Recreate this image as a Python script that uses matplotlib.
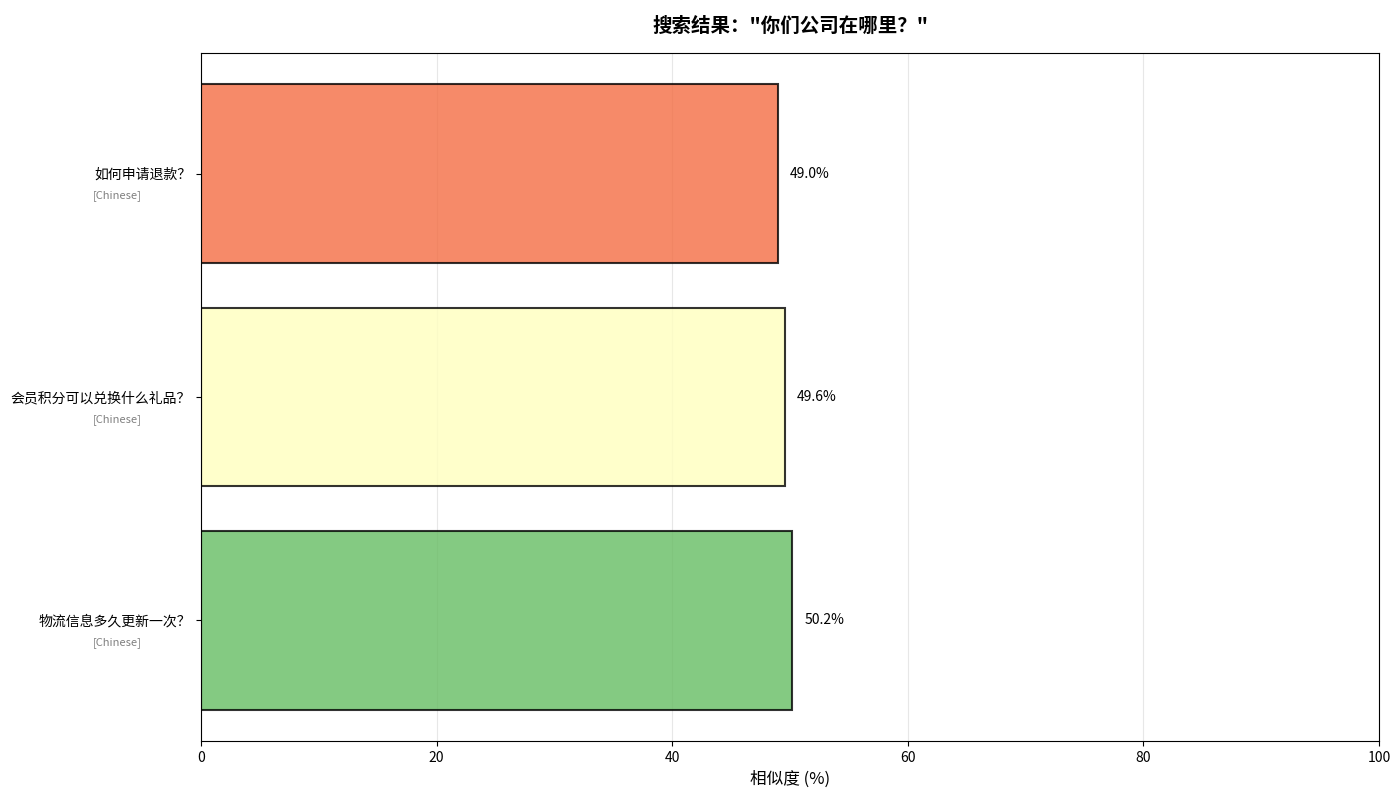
import matplotlib
matplotlib.use("Agg")
import matplotlib.pyplot as plt
import matplotlib.transforms as mtransforms

plt.rcParams['font.family'] = ['Noto Sans CJK SC', 'DejaVu Sans']

questions = ["如何申请退款？", "会员积分可以兑换什么礼品？", "物流信息多久更新一次？"]
languages = ["Chinese", "Chinese", "Chinese"]
similarity = [49.0, 49.6, 50.2]
colors = ["#f46d43", "#ffffbf", "#66bd63"]
title = '搜索结果："你们公司在哪里？"'

fig = plt.figure(figsize=(14, 7.94), dpi=100)
ax = fig.add_axes([201/1400, 1-741/794, (1379-201)/1400, (741-53)/794])

ypos = list(range(len(questions)))
ax.barh(ypos, similarity, height=0.8, color=colors, alpha=0.8,
        edgecolor='black', linewidth=1.5)
ax.set_yticks(ypos)
ax.set_yticklabels(questions, fontsize=10)
ax.invert_yaxis()
ax.set_xlim(0, 100)
ax.set_xlabel("相似度 (%)", fontsize=12)
ax.set_title(title, fontsize=14, fontweight='bold', pad=15)
ax.grid(axis='x', alpha=0.3)
ax.set_axisbelow(True)

for y, v in zip(ypos, similarity):
    ax.text(v + 1, y, f"{v:.1f}%", va='center', ha='left', fontsize=10)

trans = mtransforms.blended_transform_factory(ax.transAxes, ax.transData)
for y, lang in zip(ypos, languages):
    ax.text(-0.05, y + 0.1, f"[{lang}]", transform=trans, ha='right',
            va='center', fontsize=8, color='gray')

fig.savefig("out.png", dpi=100)
